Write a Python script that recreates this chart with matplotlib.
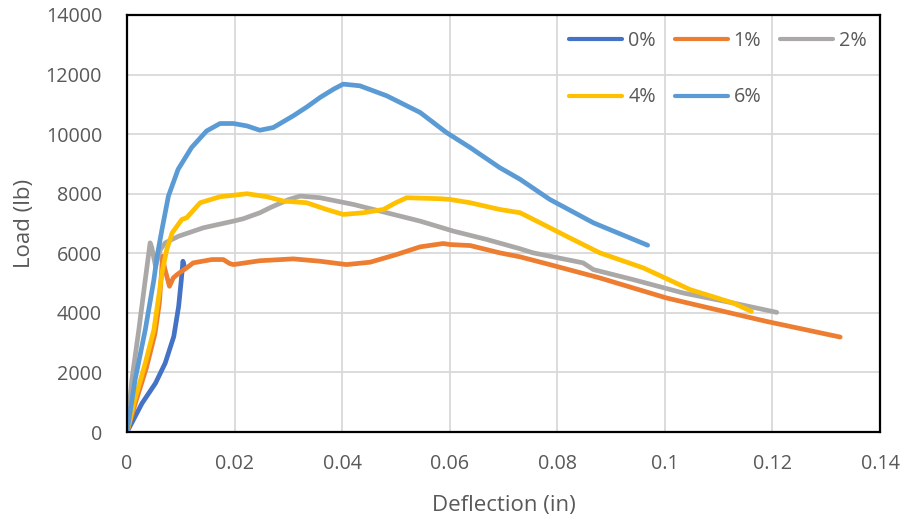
import matplotlib
matplotlib.use("Agg")
import matplotlib.pyplot as plt

# ---------------- data ----------------
labels = ["0%", "1%", "2%", "4%", "6%"]
colors = ["#4472C4", "#ED7D31", "#ABA9A8", "#FFC000", "#5B9BD5"]

x0 = [0, 0.0028, 0.0053, 0.0071, 0.0087, 0.0096, 0.0101, 0.0104, 0.0106]
y0 = [0, 966, 1639, 2312, 3208, 4219, 5116, 5733, 5600]

x1 = [0, 0.0016, 0.0036, 0.0052, 0.0060, 0.0064, 0.0066, 0.0070, 0.0079, 0.0086,
      0.0093, 0.0115, 0.0123, 0.0158, 0.0179, 0.0191, 0.0198, 0.0247, 0.0309,
      0.0359, 0.0408, 0.0452, 0.0501, 0.0545, 0.0588, 0.0600, 0.0638, 0.0693,
      0.0731, 0.0786, 0.0879, 0.1003, 0.1096, 0.1189, 0.1326]
y1 = [0, 1000, 2150, 3300, 4300, 5300, 5900, 5500, 4892, 5173,
      5284, 5565, 5678, 5790, 5790, 5655, 5621, 5750, 5812,
      5733, 5621, 5700, 5958, 6216, 6328, 6294, 6260, 6015,
      5880, 5621, 5173, 4500, 4106, 3713, 3187]

x2 = [0, 0.0009, 0.0022, 0.0034, 0.0043, 0.0046, 0.0053, 0.0062, 0.0071, 0.0096,
      0.0142, 0.0198, 0.0216, 0.0247, 0.0266, 0.0300, 0.0322, 0.0359, 0.0421,
      0.0483, 0.0545, 0.0607, 0.0669, 0.0731, 0.0755, 0.0848, 0.0867, 0.0941,
      0.1034, 0.1127, 0.1208]
y2 = [0, 1750, 3433, 5116, 6350, 6200, 5565, 6126, 6350, 6574,
      6856, 7080, 7159, 7360, 7530, 7800, 7920, 7865, 7640,
      7360, 7080, 6743, 6463, 6150, 6015, 5678, 5453, 5116,
      4668, 4331, 4016]

x3 = [0, 0.0015, 0.0034, 0.0050, 0.0059, 0.0065, 0.0074, 0.0084, 0.0102, 0.0111,
      0.0136, 0.0173, 0.0223, 0.0260, 0.0291, 0.0334, 0.0371, 0.0402, 0.0439,
      0.0477, 0.0500, 0.0520, 0.0582, 0.0600, 0.0638, 0.0693, 0.0731, 0.0768,
      0.0817, 0.0879, 0.0960, 0.1047, 0.1127, 0.1161]
y3 = [0, 1111, 2312, 3433, 4555, 5341, 6126, 6687, 7136, 7193,
      7697, 7899, 8000, 7899, 7752, 7697, 7472, 7304, 7360,
      7472, 7700, 7865, 7832, 7809, 7697, 7472, 7360, 7024,
      6574, 6015, 5509, 4780, 4331, 4049]

x4 = [0, 0.0015, 0.0034, 0.0050, 0.0056, 0.0065, 0.0077, 0.0095, 0.0120, 0.0148,
      0.0173, 0.0198, 0.0223, 0.0247, 0.0272, 0.0309, 0.0335, 0.0359, 0.0385,
      0.0402, 0.0433, 0.0483, 0.0545, 0.0594, 0.0638, 0.0693, 0.0731, 0.0786,
      0.0867, 0.0968]
y4 = [0, 1750, 3433, 5116, 5901, 6799, 7920, 8818, 9549, 10107,
      10357, 10357, 10276, 10131, 10222, 10614, 10920, 11232, 11520,
      11679, 11623, 11286, 10727, 10053, 9550, 8875, 8482, 7809,
      7024, 6270]

series_x = [x0, x1, x2, x3, x4]
series_y = [y0, y1, y2, y3, y4]

x_ticks = [0, 0.02, 0.04, 0.06, 0.08, 0.1, 0.12, 0.14]
x_ticklabels = ["0", "0.02", "0.04", "0.06", "0.08", "0.1", "0.12", "0.14"]
y_ticks = [0, 2000, 4000, 6000, 8000, 10000, 12000, 14000]

# ---------------- plot ----------------
plt.rcParams["font.family"] = ["Open Sans", "DejaVu Sans"]
txt = "#595959"

fig = plt.figure(figsize=(9.06, 5.23), dpi=100)
ax = fig.add_axes([127 / 906, 1 - 432 / 523, (880 - 127) / 906, (432 - 15) / 523])

handles = []
for xs, ys, c, lab in zip(series_x, series_y, colors, labels):
    h, = ax.plot(xs, ys, color=c, lw=3.4, label=lab, solid_capstyle="round",
                 solid_joinstyle="round")
    handles.append(h)

ax.set_xlim(0, 0.14)
ax.set_ylim(0, 14000)
ax.set_xticks(x_ticks)
ax.set_xticklabels(x_ticklabels)
ax.set_yticks(y_ticks)
ax.grid(True, color="#D9D9D9", lw=1.3)
ax.set_axisbelow(True)
for s in ax.spines.values():
    s.set_color("black")
    s.set_linewidth(1.6)
ax.tick_params(length=0, labelsize=14.2, labelcolor=txt)
ax.tick_params(axis="x", pad=16)
ax.tick_params(axis="y", pad=18)

ax.set_xlabel("Deflection (in)", fontsize=16, color=txt, labelpad=15)
ax.set_ylabel("Load (lb)", fontsize=16, color=txt, labelpad=8)

order = [0, 3, 1, 4, 2]
leg = ax.legend([handles[i] for i in order], [labels[i] for i in order],
                loc="upper left", bbox_to_anchor=(569 / 906, 1 - 31 / 523),
                bbox_transform=fig.transFigure, ncol=3, frameon=False,
                fontsize=14.2, handlelength=2.7, handletextpad=0.3,
                columnspacing=0.95, labelspacing=1.85, borderpad=0,
                borderaxespad=0)
for t in leg.get_texts():
    t.set_color(txt)
for l in leg.get_lines():
    l.set_linewidth(3)

fig.savefig("out.png", dpi=100)
